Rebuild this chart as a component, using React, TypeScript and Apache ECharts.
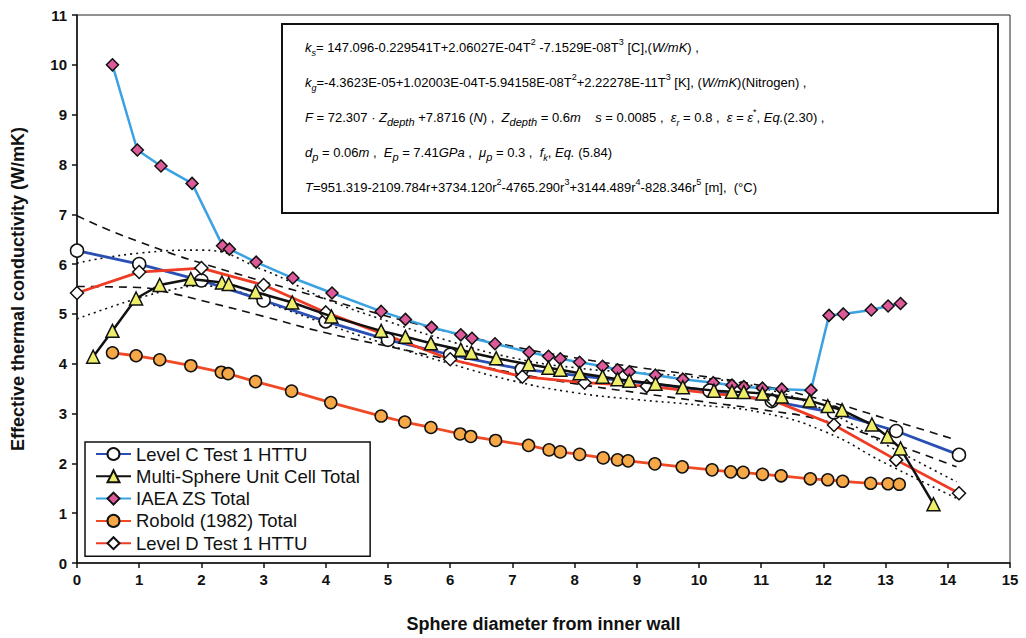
import React, { useEffect, useRef } from "react";
import * as echarts from "echarts";

// ---- data ----
const levelC: number[][] = [[0,6.27],[1,6.0],[2,5.67],[3,5.27],[4,4.85],[5,4.48],[6,4.18],[7.15,3.89],[10.17,3.46],[11.17,3.25],[12.17,3.02],[13.17,2.65],[14.18,2.17]];
const multiSphere: number[][] = [[0.26,4.14],[0.57,4.66],[0.95,5.31],[1.33,5.58],[1.83,5.70],[2.33,5.63],[2.44,5.60],[2.87,5.44],[3.46,5.23],[4.09,4.95],[4.89,4.66],[5.28,4.54],[5.69,4.41],[6.17,4.28],[6.34,4.22],[6.74,4.11],[7.26,3.99],[7.58,3.92],[7.77,3.88],[8.08,3.81],[8.45,3.74],[8.69,3.69],[8.88,3.66],[9.30,3.60],[9.74,3.53],[10.24,3.46],[10.53,3.44],[10.72,3.43],[11.02,3.40],[11.33,3.34],[11.78,3.26],[12.07,3.15],[12.30,3.07],[12.78,2.78],[13.03,2.54],[13.24,2.30],[13.77,1.18]];
const iaeaZS: number[][] = [[0.57,10.0],[0.97,8.29],[1.35,7.97],[1.85,7.62],[2.34,6.37],[2.45,6.30],[2.88,6.04],[3.47,5.72],[4.10,5.42],[4.89,5.05],[5.28,4.89],[5.70,4.73],[6.17,4.58],[6.35,4.51],[6.72,4.40],[7.27,4.23],[7.58,4.15],[7.77,4.10],[8.08,4.03],[8.45,3.95],[8.69,3.88],[8.88,3.84],[9.30,3.77],[9.74,3.69],[10.23,3.62],[10.53,3.57],[10.72,3.54],[11.02,3.51],[11.33,3.49],[11.80,3.47],[12.09,4.97],[12.32,5.00],[12.77,5.08],[13.04,5.16],[13.24,5.21]];
const robold: number[][] = [[0.57,4.22],[0.95,4.16],[1.33,4.08],[1.83,3.96],[2.32,3.83],[2.43,3.80],[2.87,3.64],[3.45,3.45],[4.08,3.22],[4.89,2.95],[5.27,2.83],[5.69,2.72],[6.16,2.59],[6.33,2.54],[6.73,2.46],[7.26,2.36],[7.59,2.27],[7.77,2.23],[8.08,2.18],[8.46,2.11],[8.69,2.07],[8.86,2.05],[9.29,1.99],[9.73,1.93],[10.21,1.87],[10.51,1.83],[10.71,1.82],[11.02,1.78],[11.32,1.75],[11.79,1.69],[12.07,1.67],[12.31,1.64],[12.76,1.60],[13.04,1.59],[13.22,1.58]];
const levelD: number[][] = [[0,5.42],[1,5.84],[2,5.92],[3,5.58],[4,5.03],[6,4.09],[7.16,3.74],[8.16,3.62],[9.16,3.55],[11.18,3.27],[12.17,2.77],[13.17,2.07],[14.18,1.40]];
// dashed band (around Level C) and dotted band (around Level D)
const dashUpper: number[][] = [[0,6.97],[0.5,6.69],[1,6.45],[1.5,6.22],[2,6.02],[3,5.65],[4,5.3],[5,4.95],[6,4.63],[7,4.35],[8,4.12],[9,3.93],[10,3.76],[11,3.56],[12,3.27],[13,2.9],[14.14,2.47]];
const dashLower: number[][] = [[0,5.55],[1,5.53],[1.5,5.42],[2,5.27],[3,4.95],[4,4.62],[5,4.35],[6,4.08],[7,3.82],[8,3.6],[9,3.42],[10,3.25],[11,3.08],[12,2.86],[13,2.45],[14.14,1.93]];
const dotUpper: number[][] = [[0,6.02],[1,6.22],[2,6.28],[3,5.88],[4,5.3],[5,4.85],[6,4.45],[7,4.12],[8,3.92],[9,3.82],[10,3.72],[11,3.52],[12,3.08],[13,2.38],[14.14,1.63]];
const dotLower: number[][] = [[0,4.9],[0.5,5.12],[1,5.32],[1.5,5.48],[2,5.56],[2.5,5.48],[3,5.25],[4,4.8],[5,4.38],[6,4.0],[7,3.66],[8,3.42],[9,3.28],[10,3.17],[11,3.02],[12,2.65],[13,2.0],[14.14,1.3]];

const seriesNames = ["Level C Test 1 HTTU", "Multi-Sphere Unit Cell Total", "IAEA ZS Total", "Robold (1982) Total", "Level D Test 1 HTTU"];
const xTitle = "Sphere diameter from inner wall";
const yTitle = "Effective thermal conductivity (W/mK)";

const formulaLines = [
  "{i|k}{sb|s}{n|= 147.096-0.229541T+2.06027E-04T}{sp|2}{n| -7.1529E-08T}{sp|3}{n| [C],(}{i|W/mK}{n|) ,}",
  "{i|k}{sb|g}{n|=-4.3623E-05+1.02003E-04T-5.94158E-08T}{sp|2}{n|+2.22278E-11T}{sp|3}{n| [K], (}{i|W/mK}{n|)(Nitrogen) ,}",
  "{i|F}{n| = 72.307 · }{i|Z}{sd|depth}{n| +7.8716 (}{i|N}{n|) ,  }{i|Z}{sd|depth}{n| = 0.6}{i|m}{n|    }{i|s}{n| = 0.0085 ,  }{i|ε}{sb|r}{n| = 0.8 ,  }{i|ε = ε}{sp|*}{n|, }{i|Eq.}{n|(2.30) ,}",
  "{i|d}{sd|p}{n| = 0.06}{i|m}{n| ,  }{i|E}{sd|p}{n| = 7.41}{i|GPa}{n| ,  }{i|μ}{sd|p}{n| = 0.3 ,  }{i|f}{sb|k}{n|, }{i|Eq.}{n| (5.84)}",
  "{i|T}{n|=951.319-2109.784r+3734.120r}{sp|2}{n|-4765.290r}{sp|3}{n|+3144.489r}{sp|4}{n|-828.346r}{sp|5}{n| [m],  (°C)}",
];

const FONT = "'Liberation Sans', Arial, sans-serif";

export default function App() {
  const ref = useRef<HTMLDivElement>(null);
  useEffect(() => {
    if (!ref.current) return;
    const chart = echarts.init(ref.current, undefined, { renderer: "svg" });
    const rich = {
      n: { fontSize: 13, fontFamily: FONT, color: "#151515", lineHeight: 20 },
      i: { fontSize: 13, fontFamily: FONT, fontStyle: "italic", color: "#151515", lineHeight: 20 },
      sb: { fontSize: 9, fontFamily: FONT, fontStyle: "italic", color: "#151515", lineHeight: 10, verticalAlign: "bottom" },
      sd: { fontSize: 11, fontFamily: FONT, fontStyle: "italic", color: "#151515", lineHeight: 11, verticalAlign: "bottom" },
      sp: { fontSize: 9, fontFamily: FONT, color: "#151515", lineHeight: 10, verticalAlign: "top" },
    };
    const lineYs = [47, 82, 117, 152, 187];
    const band = (name: string, data: number[][], dash: number[]) => ({
      name, type: "line", data, smooth: true, showSymbol: false, symbol: "none", z: 1, silent: true,
      lineStyle: { color: "#111", width: 1.6, type: dash },
    });
    const main = (name: string, data: number[][], color: string, symbol: string, size: number, fill: string, width: number, z: number) => ({
      name, type: "line", data, symbol, symbolSize: size, z,
      lineStyle: { color, width },
      itemStyle: { color: fill, borderColor: "#111", borderWidth: 1.5 },
    });
    chart.setOption({
      animation: false,
      backgroundColor: "#fff",
      grid: { left: 77, top: 15, right: 16, bottom: 75, show: true, borderColor: "#222", borderWidth: 1 },
      xAxis: {
        type: "value", min: 0, max: 15, interval: 1,
        name: xTitle, nameLocation: "middle", nameGap: 52,
        nameTextStyle: { fontFamily: FONT, fontWeight: "bold", fontSize: 18, color: "#111" },
        axisLine: { show: true, onZero: false, lineStyle: { color: "#111", width: 1.5 } },
        axisTick: { show: true, length: 5, lineStyle: { color: "#111", width: 1.5 } },
        axisLabel: { margin: 9, fontFamily: FONT, fontWeight: "bold", fontSize: 15, color: "#111" },
        splitLine: { show: false },
      },
      yAxis: {
        type: "value", min: 0, max: 11, interval: 1,
        name: yTitle, nameLocation: "middle", nameGap: 50, nameRotate: 90,
        nameTextStyle: { fontFamily: FONT, fontWeight: "bold", fontSize: 18, color: "#111" },
        axisLine: { show: true, onZero: false, lineStyle: { color: "#111", width: 1.5 } },
        axisTick: { show: true, length: 5, lineStyle: { color: "#111", width: 1.5 } },
        axisLabel: { margin: 10, fontFamily: FONT, fontWeight: "bold", fontSize: 15, color: "#111" },
        splitLine: { show: false },
      },
      legend: {
        data: seriesNames,
        orient: "vertical", left: 85, top: 442,
        itemWidth: 35, itemHeight: 15, itemGap: 2.3,
        padding: [2, 10, 3, 10],
        backgroundColor: "#fff", borderColor: "#111", borderWidth: 1.5, borderRadius: 0,
        textStyle: { fontFamily: FONT, fontSize: 18.5, color: "#111", lineHeight: 20 },
      },
      series: [
        band("dashU", dashUpper, [8, 6]),
        band("dashL", dashLower, [8, 6]),
        band("dotU", dotUpper, [2, 4]),
        band("dotL", dotLower, [2, 4]),
        main(seriesNames[3], robold, "#f04a25", "circle", 12, "#f5a845", 2.8, 3),
        main(seriesNames[2], iaeaZS, "#3aa2e2", "diamond", 12, "#dd5a9a", 2.5, 3),
        main(seriesNames[0], levelC, "#2a4fb3", "circle", 13, "#ffffff", 2.8, 4),
        main(seriesNames[4], levelD, "#ef3a24", "diamond", 13, "#ffffff", 2.8, 4),
        main(seriesNames[1], multiSphere, "#111111", "triangle", 13, "#eeee6a", 2.5, 5),
      ],
      graphic: [
        { type: "rect", z: 10, shape: { x: 282, y: 24, width: 716, height: 189 }, style: { fill: "#fff", stroke: "#111", lineWidth: 2 } },
        ...formulaLines.map((t, k) => ({
          type: "text", z: 11, x: 305, y: lineYs[k],
          style: { text: t, rich, verticalAlign: "middle", align: "left" },
        })),
      ],
    });
    return () => chart.dispose();
  }, []);
  return <div ref={ref} style={{ position: "fixed", left: 0, top: 0, width: 1026, height: 638 }} />;
}
